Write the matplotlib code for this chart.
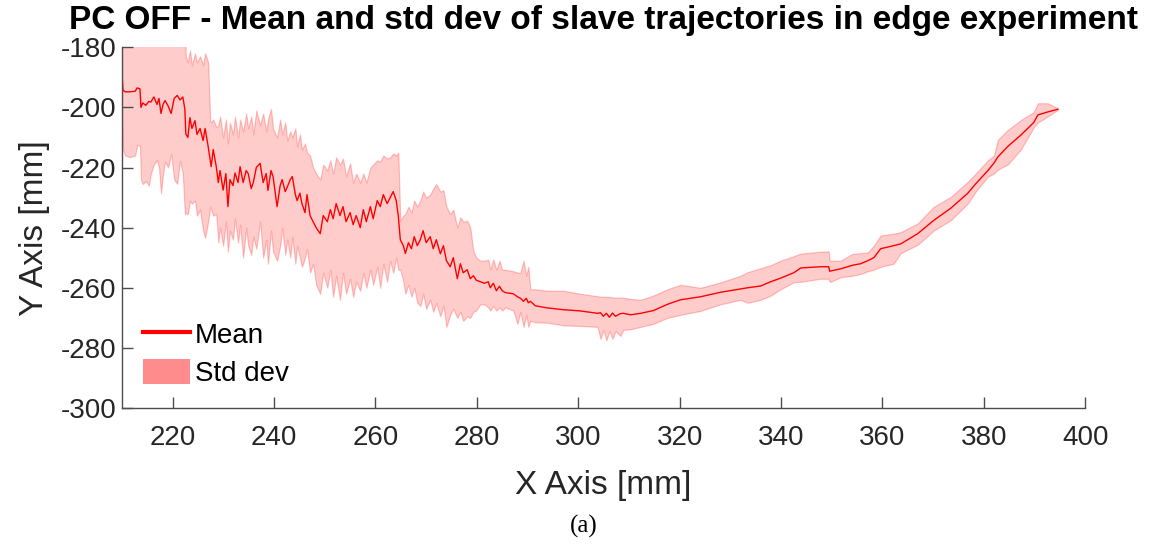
import matplotlib
matplotlib.use("Agg")
import matplotlib.pyplot as plt
from matplotlib.lines import Line2D
from matplotlib.patches import Patch
import numpy as np

# slave trajectory, x position [mm]
x_mm = [210.0, 210.2, 210.6, 211.6, 212.6, 213.0, 213.55, 213.75, 214.1, 214.7,
        215.3, 215.7, 216.3, 216.9, 217.3, 217.7, 218.1, 218.5, 219.1, 219.7,
        220.3, 220.9, 221.45, 222.0, 222.4, 222.6, 223.0, 223.4, 223.8, 224.4,
        224.8, 225.4, 226.0, 226.4, 227.0, 227.4, 227.6, 228.0, 228.6, 229.0,
        229.35, 229.95, 230.5, 230.9, 231.3, 231.9, 232.3, 232.9, 233.3, 233.9,
        234.5, 234.9, 235.5, 235.9, 236.5, 237.25, 237.85, 238.45, 238.8, 239.4,
        239.8, 240.6, 241.2, 241.6, 242.2, 242.6, 243.2, 243.6, 244.2, 244.55,
        245.1, 245.5, 246.1, 246.5, 247.1, 247.7, 248.3, 249.1, 249.7, 250.5,
        251.1, 251.65, 252.25, 253.0, 253.6, 254.2, 255.0, 255.6, 256.2, 257.0,
        257.6, 258.2, 259.0, 259.55, 260.35, 260.95, 261.55, 262.3, 262.9, 263.5,
        264.1, 264.5, 264.9, 265.5, 265.9, 266.5, 267.1, 267.65, 268.25, 268.85,
        269.4, 270.0, 270.8, 271.4, 272.0, 272.8, 273.4, 274.0, 274.75, 275.35,
        276.15, 276.75, 277.3, 278.1, 278.7, 279.3, 279.9, 280.7, 281.5, 282.25,
        282.65, 283.25, 283.85, 284.45, 285.0, 285.6, 287.2, 288.0, 288.6, 289.2,
        289.75, 290.15, 290.55, 291.55, 293.9, 297.1, 300.4, 303.8, 304.4, 304.95,
        305.55, 306.15, 306.75, 307.35, 308.3, 308.9, 310.3, 312.3, 314.8, 317.6,
        320.15, 324.1, 328.05, 332.0, 333.4, 336.0, 337.95, 339.9, 342.5, 343.9,
        347.8, 349.4, 349.6, 349.8, 351.75, 354.1, 355.7, 357.1, 358.3, 359.65,
        362.2, 363.6, 366.95, 370.1, 373.5, 376.8, 378.4, 380.8, 382.0, 382.75,
        384.7, 387.3, 389.85, 390.65, 392.6, 394.6]

# mean y position [mm]
y_mean = [-188.7, -194.2, -194.8, -194.8, -194.6, -193.5, -193.8, -200.0, -198.5, -199.3,
          -198.0, -198.2, -196.5, -199.0, -197.0, -202.0, -199.0, -197.7, -199.5, -202.0,
          -197.0, -196.0, -197.5, -196.5, -200.5, -208.8, -210.0, -203.4, -207.0, -204.4,
          -209.0, -207.0, -211.0, -207.0, -213.0, -217.5, -219.7, -214.0, -219.7, -225.0,
          -221.0, -227.5, -222.0, -233.0, -224.0, -226.0, -221.8, -225.0, -219.7, -225.0,
          -221.0, -222.0, -227.0, -225.0, -220.0, -218.6, -225.0, -222.0, -227.6, -221.0,
          -223.0, -233.0, -226.0, -224.0, -228.0, -226.5, -224.0, -223.0, -229.0, -231.0,
          -228.5, -232.0, -235.0, -229.0, -236.0, -238.0, -240.0, -242.0, -236.0, -238.0,
          -234.0, -237.0, -232.0, -236.0, -233.0, -238.0, -235.0, -239.0, -236.0, -240.0,
          -234.0, -238.0, -233.0, -237.0, -231.0, -233.0, -229.0, -232.0, -230.0, -228.0,
          -231.0, -236.0, -244.0, -246.0, -248.6, -245.0, -247.0, -243.0, -246.0, -244.0,
          -241.0, -245.0, -243.0, -247.0, -244.0, -248.7, -246.0, -251.0, -253.0, -250.0,
          -257.0, -252.0, -255.0, -254.0, -257.0, -256.0, -257.5, -258.0, -258.5, -258.0,
          -260.0, -258.5, -261.0, -259.5, -261.0, -261.6, -262.0, -263.0, -263.5, -264.5,
          -263.5, -265.0, -264.5, -266.0, -266.7, -267.3, -267.7, -268.5, -268.3, -269.5,
          -268.5, -269.8, -268.4, -269.5, -268.6, -268.5, -269.0, -268.5, -267.6, -265.5,
          -264.0, -263.0, -261.5, -260.4, -260.0, -259.4, -258.0, -256.8, -255.0, -253.4,
          -253.0, -253.0, -254.5, -254.4, -253.7, -252.5, -252.0, -251.0, -250.0, -247.0,
          -246.0, -245.4, -242.0, -237.6, -233.5, -228.6, -225.4, -221.0, -218.5, -216.5,
          -213.0, -209.2, -205.0, -202.5, -201.5, -200.6]

# mean + std dev
y_upper = [-172.0, -172.0, -172.0, -172.0, -172.0, -172.0, -172.0, -172.0, -172.0, -172.0,
           -172.0, -172.0, -172.0, -172.0, -172.0, -172.0, -172.0, -172.0, -172.0, -172.0,
           -172.0, -172.0, -172.0, -172.0, -172.0, -183.0, -185.0, -181.0, -186.0, -182.0,
           -185.0, -183.0, -186.0, -182.0, -185.0, -204.5, -205.0, -204.0, -206.5, -206.0,
           -203.0, -210.0, -204.0, -212.0, -205.0, -209.0, -203.0, -210.0, -204.0, -208.0,
           -202.0, -207.0, -203.0, -209.0, -201.0, -206.0, -202.0, -208.0, -204.0, -200.5,
           -207.0, -210.0, -204.0, -209.0, -205.0, -211.0, -208.0, -210.0, -207.0, -213.0,
           -209.0, -214.0, -212.0, -215.0, -216.0, -220.0, -222.0, -224.0, -219.0, -221.0,
           -217.6, -222.0, -216.6, -219.0, -217.0, -223.0, -218.6, -225.0, -222.0, -225.0,
           -222.0, -225.0, -220.0, -219.0, -217.6, -218.0, -216.0, -217.0, -216.6, -215.3,
           -216.0, -215.0, -237.7, -236.0, -235.5, -233.0, -235.0, -231.0, -233.0, -231.0,
           -228.0, -230.0, -229.0, -227.0, -225.5, -228.0, -227.6, -233.0, -235.5, -234.0,
           -240.0, -236.5, -238.0, -237.7, -240.0, -247.7, -250.0, -251.0, -251.0, -250.6,
           -254.0, -250.6, -254.0, -251.0, -254.0, -254.0, -254.5, -255.0, -255.0, -251.0,
           -256.0, -253.0, -260.5, -260.5, -261.0, -261.0, -262.0, -262.8, -263.0, -263.0,
           -263.0, -263.0, -263.2, -263.3, -263.3, -263.3, -263.7, -264.0, -262.6, -260.5,
           -259.0, -260.0, -258.2, -256.0, -254.8, -253.5, -252.5, -251.0, -249.5, -248.6,
           -248.0, -247.9, -251.0, -251.0, -251.0, -248.7, -248.5, -248.2, -246.0, -242.6,
           -242.0, -241.5, -238.6, -233.1, -229.7, -224.8, -222.0, -217.6, -216.0, -210.8,
           -207.5, -204.2, -201.5, -198.6, -198.6, -200.3]

# mean - std dev
y_lower = [-202.0, -214.0, -216.0, -216.5, -216.0, -212.5, -212.8, -224.0, -225.5, -224.5,
           -226.0, -222.0, -219.0, -217.5, -220.0, -228.6, -222.0, -218.0, -220.0, -215.5,
           -224.0, -225.4, -217.7, -222.0, -235.5, -235.0, -235.5, -231.0, -232.0, -231.0,
           -236.0, -234.0, -241.0, -243.4, -238.0, -233.0, -234.0, -236.0, -235.5, -245.0,
           -240.0, -246.0, -238.0, -248.0, -241.0, -244.0, -237.0, -245.0, -239.0, -250.0,
           -240.0, -246.0, -249.0, -243.0, -247.0, -238.0, -250.0, -244.0, -252.0, -241.0,
           -248.0, -251.0, -246.0, -240.0, -249.0, -244.0, -250.0, -243.0, -252.0, -246.0,
           -250.0, -253.0, -250.0, -247.0, -255.0, -252.0, -259.0, -262.0, -255.0, -260.0,
           -254.0, -263.0, -256.0, -264.0, -255.0, -262.0, -257.0, -263.0, -258.0, -261.0,
           -255.0, -260.0, -254.0, -259.0, -253.0, -260.0, -252.0, -258.0, -251.0, -255.0,
           -250.0, -254.0, -254.0, -258.0, -262.0, -259.0, -263.0, -260.0, -265.0, -266.0,
           -262.0, -267.0, -264.0, -268.0, -265.0, -269.5, -266.0, -273.0, -269.0, -267.0,
           -270.0, -268.0, -271.0, -269.5, -270.0, -268.0, -267.5, -265.5, -265.5, -266.5,
           -267.6, -266.0, -267.6, -266.5, -267.6, -266.5, -267.6, -272.0, -268.0, -273.0,
           -269.0, -273.0, -271.0, -271.5, -271.6, -272.5, -272.7, -273.0, -277.0, -274.0,
           -277.5, -274.4, -277.0, -274.4, -276.0, -274.0, -273.8, -273.0, -272.0, -270.0,
           -269.0, -267.7, -265.5, -264.0, -265.0, -264.0, -262.6, -260.5, -258.2, -258.0,
           -257.0, -257.0, -258.0, -258.0, -256.5, -256.0, -255.4, -254.5, -254.0, -253.0,
           -252.0, -248.5, -245.7, -241.0, -237.5, -232.0, -228.0, -223.0, -222.0, -220.7,
           -219.0, -214.0, -206.6, -205.0, -203.0, -200.8]

x_ticks = [220, 240, 260, 280, 300, 320, 340, 360, 380, 400]
y_ticks = [-300, -280, -260, -240, -220, -200, -180]

plt.rcParams['font.family'] = ['Liberation Sans', 'DejaVu Sans']
plt.rcParams['axes.unicode_minus'] = False
axis_grey = '#4d4d4d'
text_grey = '#262626'

fig = plt.figure(figsize=(11.55, 5.44), dpi=100)
ax = fig.add_axes((0.1056, 0.25, 0.834, 0.663))

# std dev band, edges drawn twice so they look darker than the face
ax.fill_between(x_mm, y_lower, y_upper, facecolor=(1, 0, 0, 0.2),
                edgecolor=(1, 0, 0, 0.22), linewidth=0.9)
ax.plot(x_mm, y_mean, color='red', linewidth=1.0)

ax.set_xlim(210, 400)
ax.set_ylim(-300, -180)
ax.set_xticks(x_ticks)
ax.set_yticks(y_ticks)

for side in ['top', 'right']:
    ax.spines[side].set_visible(False)
for side in ['left', 'bottom']:
    ax.spines[side].set_color(axis_grey)
    ax.spines[side].set_linewidth(1.0)

ax.tick_params(axis='both', direction='in', length=8, width=1.0,
               colors=axis_grey, labelcolor=text_grey, labelsize=20)
ax.tick_params(axis='x', pad=12)
ax.tick_params(axis='y', pad=4)

ax.set_xlabel('X Axis [mm]', fontsize=24, color=text_grey, labelpad=14)
ax.set_ylabel('Y Axis [mm]', fontsize=24, color=text_grey, labelpad=8)
ax.set_title('PC OFF - Mean and std dev of slave trajectories in edge experiment',
             fontsize=24, fontweight='bold', color='black', pad=13)

handles = [Line2D([0], [0], color='red', linewidth=3),
           Patch(facecolor=(1, 0.55, 0.55), edgecolor='none')]
ax.legend(handles, ['Mean', 'Std dev'], loc='lower left', frameon=False,
          bbox_to_anchor=(0.022, 0.058), borderaxespad=0, borderpad=0,
          fontsize=20, handlelength=1.7, handleheight=1.0,
          handletextpad=0.15, labelspacing=0.35, labelcolor='black')

fig.text(0.505, 0.033, '(a)', fontsize=18, family='Liberation Serif',
         ha='center', va='center')

fig.savefig('out.png', dpi=100)
